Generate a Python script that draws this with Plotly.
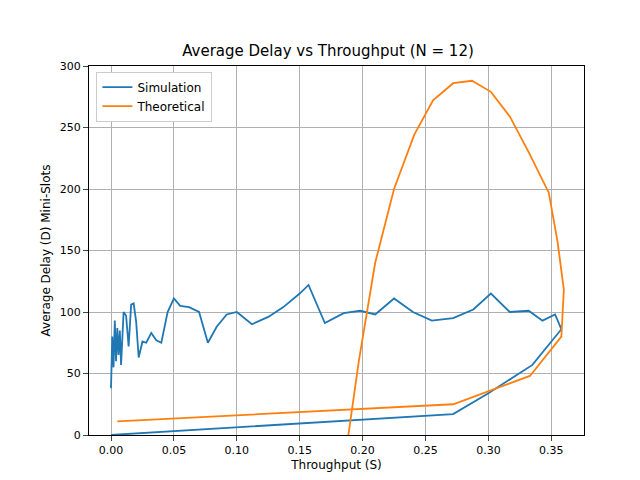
import plotly.graph_objects as go

# simulation: throughput S and delay D
sim_s = [0.0, 0.001, 0.002, 0.003, 0.004, 0.005, 0.006, 0.007, 0.008, 0.01, 0.012, 0.014,
         0.016, 0.018, 0.02, 0.022, 0.025, 0.028, 0.032, 0.036, 0.04, 0.045, 0.05, 0.055,
         0.062, 0.07, 0.077, 0.084, 0.092, 0.1, 0.112, 0.125, 0.137, 0.15, 0.157, 0.17,
         0.185, 0.198, 0.21, 0.225, 0.24, 0.255, 0.272, 0.288, 0.302, 0.317, 0.332, 0.343,
         0.353, 0.358, 0.335, 0.3, 0.272, 0.0]
sim_d = [38, 80, 55, 93, 60, 87, 65, 85, 57, 100, 97, 72,
         106, 107, 92, 63, 76, 75, 83, 77, 75, 100, 111, 105,
         104, 100, 75, 88, 98, 100, 90, 96, 104, 115, 122, 91,
         99, 101, 98, 111, 100, 93, 95, 102, 115, 100, 101, 93,
         98, 86, 57, 34, 17, 0]

theo_s = [0.005, 0.272, 0.333, 0.358, 0.36, 0.355, 0.348, 0.332, 0.317, 0.302, 0.287,
          0.272, 0.256, 0.241, 0.225, 0.21, 0.197, 0.188]
theo_d = [11, 25, 48, 80, 118, 157, 197, 230, 259, 279, 288,
          286, 272, 244, 200, 140, 60, -5]

fig = go.Figure()
fig.add_trace(go.Scatter(x=sim_s, y=sim_d, mode="lines", name="Simulation",
                         line=dict(color="#1f77b4", width=1.8)))
fig.add_trace(go.Scatter(x=theo_s, y=theo_d, mode="lines", name="Theoretical",
                         line=dict(color="#ff7f0e", width=1.8)))

ax = dict(showline=True, linecolor="black", mirror=True, ticks="outside", automargin=False,
          gridcolor="#b0b0b0", zeroline=False, tickfont=dict(size=11, color="black"))
fig.update_layout(
    width=640, height=480,
    font=dict(family="DejaVu Sans", color="black"),
    title=dict(text="Average Delay vs Throughput (N = 12)", x=0.5, y=0.91, yref="container",
               xanchor="center", yanchor="middle", font=dict(size=15), automargin=False),
    plot_bgcolor="white", paper_bgcolor="white",
    margin=dict(l=81, r=64, t=58, b=53),
    legend=dict(x=0.015, y=0.985, bgcolor="white", bordercolor="#cccccc", borderwidth=1,
                font=dict(size=12)),
    xaxis=dict(ax, range=[-0.0175, 0.376], tickvals=[0, 0.05, 0.1, 0.15, 0.2, 0.25, 0.3, 0.35],
               ticktext=["0.00", "0.05", "0.10", "0.15", "0.20", "0.25", "0.30", "0.35"],
               title=dict(text="Throughput (S)", font=dict(size=12), standoff=4)),
    yaxis=dict(ax, range=[0, 300], dtick=50,
               title=dict(text="Average Delay (D) Mini-Slots", font=dict(size=12), standoff=6)),
)
fig.write_html("out.html")
